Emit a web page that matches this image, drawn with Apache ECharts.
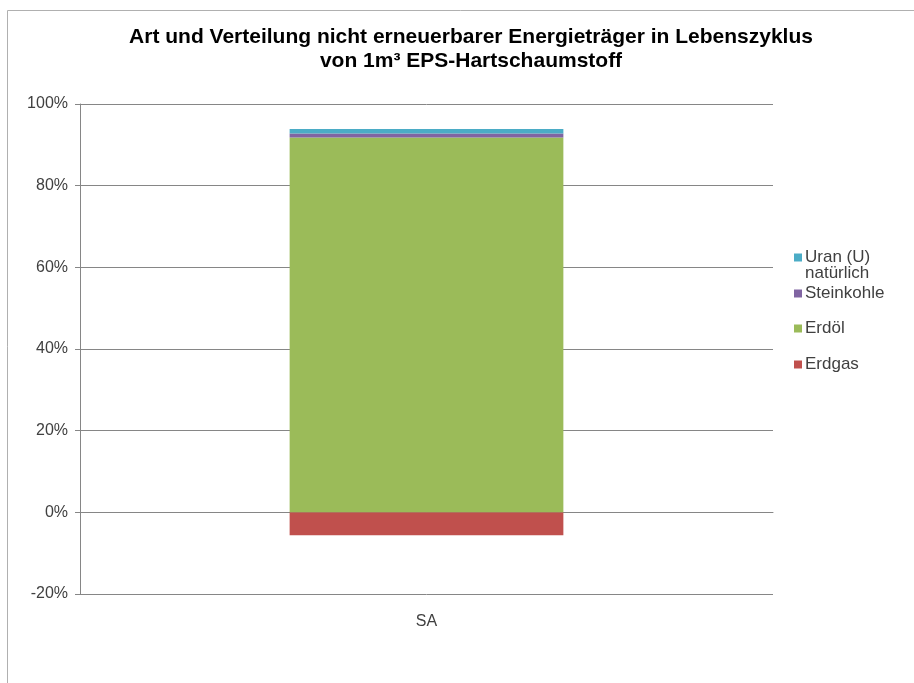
<!DOCTYPE html>
<html>
<head>
<meta charset="utf-8">
<script src="https://cdn.jsdelivr.net/npm/echarts@6/dist/echarts.min.js"></script>
<style>html,body{margin:0;padding:0;background:#fff;}#c{width:914px;height:683px;}</style>
</head>
<body>
<div id="c"></div>
<script>
var categories = ['SA'];
var seriesNames = ['Erdgas', 'Erdöl', 'Steinkohle', 'Uran (U) natürlich'];
var erdgas = [-5.6];
var erdoel = [91.8];
var steinkohle = [1.0];
var uran = [1.1];
var yTicks = [-20, 0, 20, 40, 60, 80, 100];

var colors = ['#c0504d', '#9bbb59', '#8064a2', '#4bacc6'];
var values = [erdgas, erdoel, steinkohle, uran];

var chart = echarts.init(document.getElementById('c'));
var series = seriesNames.map(function (n, i) {
  return {
    name: n, type: 'bar', stack: 'total', data: values[i],
    barWidth: '39.5%',
    itemStyle: { color: colors[i] },
    emphasis: { disabled: true }
  };
});
var legendTops = [351, 315, 280, 244];
var legends = seriesNames.map(function (n, i) {
  return {
    data: [n], left: 789, top: legendTops[i], orient: 'vertical',
    icon: 'rect', itemWidth: 8, itemHeight: 8, itemGap: 5,
    formatter: function (name) { return name === 'Uran (U) natürlich' ? 'Uran (U)' : name; },
    textStyle: { fontFamily: 'Liberation Sans, Arial, sans-serif', fontSize: 17, color: '#404040', padding: [0, 0, 0, -2] },
    selectedMode: false
  };
});
chart.setOption({
  animation: false,
  title: {
    text: 'Art und Verteilung nicht erneuerbarer Energieträger in Lebenszyklus\nvon 1m³ EPS-Hartschaumstoff',
    left: 466, top: 20, textAlign: 'center',
    textStyle: { fontFamily: 'Liberation Sans, Arial, sans-serif', fontSize: 21, fontWeight: 'bold', color: '#000', lineHeight: 24 }
  },
  legend: legends,
  grid: { left: 80, right: 141, top: 104, bottom: 89, containLabel: false },
  xAxis: {
    type: 'category', data: categories,
    axisLine: { onZero: true, lineStyle: { color: '#868686' } },
    axisTick: { show: false },
    axisLabel: { margin: 20, fontFamily: 'Liberation Sans, Arial, sans-serif', fontSize: 16, color: '#404040' }
  },
  yAxis: {
    type: 'value', min: yTicks[0], max: yTicks[yTicks.length - 1], interval: 20,
    axisLine: { show: true, lineStyle: { color: '#868686' } },
    axisTick: { show: true, length: 5, lineStyle: { color: '#868686' } },
    splitLine: { lineStyle: { color: '#868686' } },
    axisLabel: { formatter: '{value}%', margin: 12, fontFamily: 'Liberation Sans, Arial, sans-serif', fontSize: 16, color: '#404040' }
  },
  graphic: [
    { type: 'polyline', shape: { points: [[7.5, 683], [7.5, 10.5], [914, 10.5]] }, style: { stroke: '#b0b0b0', lineWidth: 1, fill: null }, silent: true },
    { type: 'text', left: 805, top: 265, style: { text: 'natürlich', font: '17px "Liberation Sans", Arial, sans-serif', fill: '#404040' }, silent: true }
  ],
  series: series
});
</script>
</body>
</html>
